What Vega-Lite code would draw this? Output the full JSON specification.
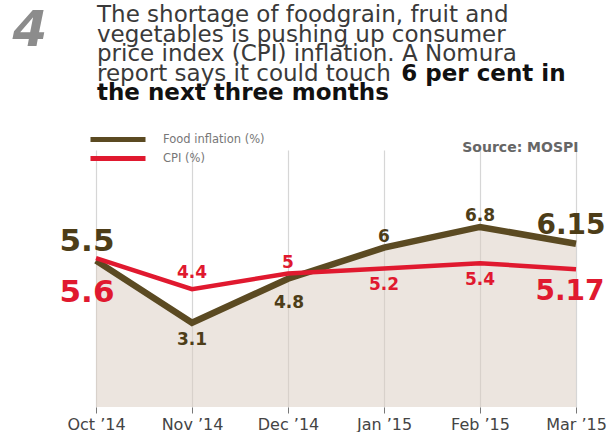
{
  "$schema": "https://vega.github.io/schema/vega-lite/v6.json",
  "width": 480,
  "height": 257,
  "autosize": {"type": "none"},
  "padding": {"left": 96, "top": 150, "right": 38, "bottom": 25},
  "background": "white",
  "config": {"view": {"stroke": null}, "font": "DejaVu Sans"},
  "title": {
    "text": ["The shortage of foodgrain, fruit and", "vegetables is pushing up consumer", "price index (CPI) inflation. A Nomura", "report says it could touch"],
    "subtitle": ["\u200b\u00a0\u00a0\u00a0\u00a0\u00a0\u00a0\u00a0\u00a0\u00a0\u00a0\u00a0\u00a0\u00a0\u00a0\u00a0\u00a0\u00a0\u00a0\u00a0\u00a0\u00a0\u00a0\u00a0\u00a0\u00a0\u00a0\u00a0\u00a0\u00a0\u00a0\u00a0\u00a0\u00a0\u00a0\u00a0\u00a0\u00a0\u00a06 per cent in", "the next three months"],
    "anchor": "start",
    "frame": "group",
    "orient": "top",
    "font": "DejaVu Sans",
    "fontSize": 23,
    "fontWeight": "normal",
    "color": "#3a3a3a",
    "lineHeight": 19.5,
    "subtitleFont": "DejaVu Sans",
    "subtitleFontSize": 23,
    "subtitleFontWeight": "bold",
    "subtitleColor": "#111111",
    "subtitleLineHeight": 19.5,
    "subtitlePadding": -23,
    "offset": -100,
    "dx": 1
  },
  "data": {
    "values": [
      {"month": "Oct ’14", "series": "Food inflation (%)", "value": 5.5},
      {"month": "Nov ’14", "series": "Food inflation (%)", "value": 3.1},
      {"month": "Dec ’14", "series": "Food inflation (%)", "value": 4.8},
      {"month": "Jan ’15", "series": "Food inflation (%)", "value": 6},
      {"month": "Feb ’15", "series": "Food inflation (%)", "value": 6.8},
      {"month": "Mar ’15", "series": "Food inflation (%)", "value": 6.15},
      {"month": "Oct ’14", "series": "CPI (%)", "value": 5.6},
      {"month": "Nov ’14", "series": "CPI (%)", "value": 4.4},
      {"month": "Dec ’14", "series": "CPI (%)", "value": 5},
      {"month": "Jan ’15", "series": "CPI (%)", "value": 5.2},
      {"month": "Feb ’15", "series": "CPI (%)", "value": 5.4},
      {"month": "Mar ’15", "series": "CPI (%)", "value": 5.17}
    ]
  },
  "encoding": {
    "x": {
      "field": "month",
      "type": "ordinal",
      "sort": ["Oct ’14", "Nov ’14", "Dec ’14", "Jan ’15", "Feb ’15", "Mar ’15"],
      "scale": {"type": "point", "padding": 0},
      "axis": {
        "title": "Source: MOSPI",
        "titleX": 482,
        "titleY": -256,
        "titleAlign": "right",
        "titleBaseline": "alphabetic",
        "titleFontSize": 14,
        "titleFontWeight": "bold",
        "titleColor": "#666666",
        "labelAngle": 0,
        "labelFontSize": 16,
        "labelColor": "#444444",
        "labelPadding": 3,
        "tickSize": 6,
        "tickColor": "#777777",
        "domain": false,
        "grid": true,
        "gridColor": "#d6d6d6",
        "gridWidth": 1.2
      }
    },
    "y": {
      "field": "value",
      "type": "quantitative",
      "scale": {"domain": [-0.15, 9.77], "nice": false, "zero": false},
      "axis": {
        "title": "4",
        "titleX": -84,
        "titleY": -105,
        "titleAngle": 0,
        "titleAlign": "left",
        "titleBaseline": "alphabetic",
        "titleFontSize": 50,
        "titleFontWeight": "bold",
        "titleFontStyle": "italic",
        "titleColor": "#8c8c8c",
        "labels": false,
        "ticks": false,
        "domain": false,
        "grid": false
      }
    }
  },
  "layer": [
    {
      "transform": [{"filter": "datum.series === 'Food inflation (%)'"}],
      "mark": {"type": "area", "fill": "#d9ccbf", "opacity": 0.5},
      "encoding": {"y2": {"datum": -0.15}}
    },
    {
      "transform": [{"filter": "datum.series === 'Food inflation (%)'"}],
      "mark": {"type": "line", "strokeWidth": 6.5},
      "encoding": {
        "color": {
          "field": "series",
          "type": "nominal",
          "scale": {"domain": ["Food inflation (%)", "CPI (%)"], "range": ["#5b4a22", "#e0192f"]},
          "legend": {
            "orient": "none",
            "legendX": 14,
            "legendY": -18.5,
            "title": null,
            "symbolType": "M-5,0H5",
            "symbolStrokeWidth": 5,
            "symbolSize": 121,
            "labelFontSize": 11.5,
            "labelColor": "#777777",
            "labelOffset": 37,
            "rowPadding": -1
          }
        }
      }
    },
    {
      "transform": [{"filter": "datum.series === 'CPI (%)'"}],
      "mark": {"type": "line", "strokeWidth": 4.5},
      "encoding": {"color": {"field": "series", "type": "nominal"}}
    },
    {
      "transform": [{"filter": "datum.series === 'Food inflation (%)' && (datum.month === 'Oct ’14')"}],
      "mark": {"type": "text", "fontSize": 31, "fontWeight": "bold", "color": "#4d3d18", "dx": -9, "dy": -19},
      "encoding": {"text": {"field": "value", "type": "quantitative", "format": "~g"}}
    },
    {
      "transform": [{"filter": "datum.series === 'Food inflation (%)' && (datum.month === 'Mar ’15')"}],
      "mark": {"type": "text", "fontSize": 28, "fontWeight": "bold", "color": "#4d3d18", "dx": -5, "dy": -18},
      "encoding": {"text": {"field": "value", "type": "quantitative", "format": "~g"}}
    },
    {
      "transform": [{"filter": "datum.series === 'CPI (%)' && (datum.month === 'Oct ’14')"}],
      "mark": {"type": "text", "fontSize": 31, "fontWeight": "bold", "color": "#e0192f", "dx": -9, "dy": 35},
      "encoding": {"text": {"field": "value", "type": "quantitative", "format": "~g"}}
    },
    {
      "transform": [{"filter": "datum.series === 'CPI (%)' && (datum.month === 'Mar ’15')"}],
      "mark": {"type": "text", "fontSize": 28, "fontWeight": "bold", "color": "#e0192f", "dx": -6, "dy": 23},
      "encoding": {"text": {"field": "value", "type": "quantitative", "format": "~g"}}
    },
    {
      "transform": [{"filter": "datum.series === 'Food inflation (%)' && (datum.month === 'Jan ’15' || datum.month === 'Feb ’15')"}],
      "mark": {"type": "text", "fontSize": 17, "fontWeight": "bold", "color": "#4d3d18", "dy": -11},
      "encoding": {"text": {"field": "value", "type": "quantitative", "format": "~g"}}
    },
    {
      "transform": [{"filter": "datum.series === 'Food inflation (%)' && datum.month === 'Nov ’14'"}],
      "mark": {"type": "text", "fontSize": 17, "fontWeight": "bold", "color": "#4d3d18", "dy": 17},
      "encoding": {"text": {"field": "value", "type": "quantitative", "format": "~g"}}
    },
    {
      "transform": [{"filter": "datum.series === 'Food inflation (%)' && datum.month === 'Dec ’14'"}],
      "mark": {"type": "text", "fontSize": 17, "fontWeight": "bold", "color": "#4d3d18", "dx": 1, "dy": 24},
      "encoding": {"text": {"field": "value", "type": "quantitative", "format": "~g"}}
    },
    {
      "transform": [{"filter": "datum.series === 'CPI (%)' && datum.month === 'Nov ’14'"}],
      "mark": {"type": "text", "fontSize": 17, "fontWeight": "bold", "color": "#e0192f", "dy": -16},
      "encoding": {"text": {"field": "value", "type": "quantitative", "format": "~g"}}
    },
    {
      "transform": [{"filter": "datum.series === 'CPI (%)' && datum.month === 'Dec ’14'"}],
      "mark": {"type": "text", "fontSize": 17, "fontWeight": "bold", "color": "#e0192f", "dy": -11},
      "encoding": {"text": {"field": "value", "type": "quantitative", "format": "~g"}}
    },
    {
      "transform": [{"filter": "datum.series === 'CPI (%)' && (datum.month === 'Jan ’15' || datum.month === 'Feb ’15')"}],
      "mark": {"type": "text", "fontSize": 17, "fontWeight": "bold", "color": "#e0192f", "dy": 17},
      "encoding": {"text": {"field": "value", "type": "quantitative", "format": "~g"}}
    }
  ]
}
